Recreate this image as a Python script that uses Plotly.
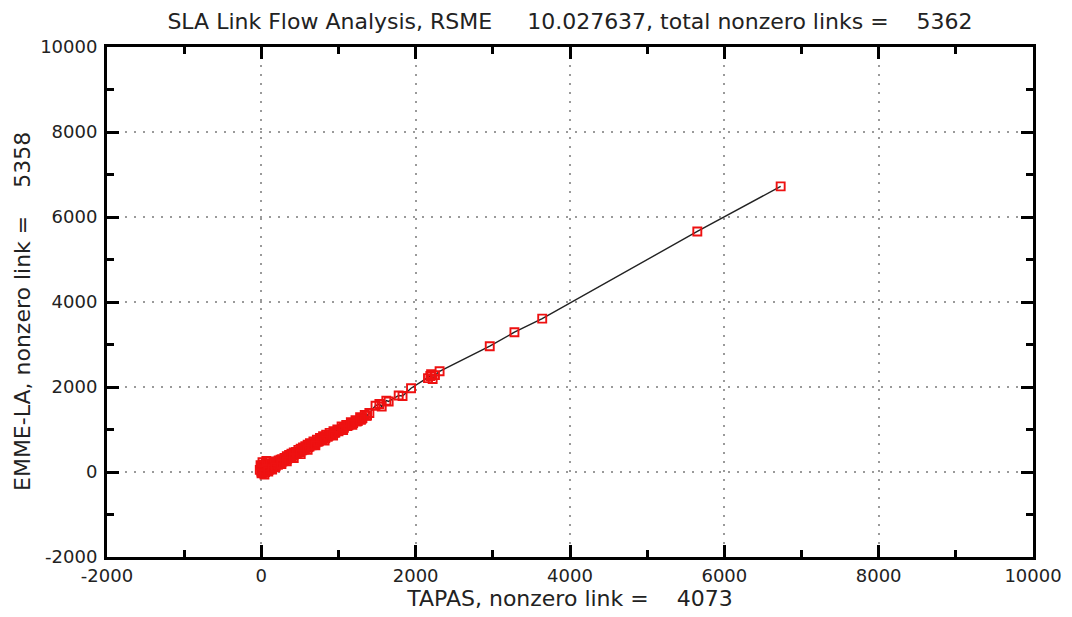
import plotly.graph_objects as go

# ---- data ----
tapas_flow = [
    0, 3, 6, 8, 10, 12, 15, 18, 20, 22, 25, 28, 30, 33, 35, 38, 40, 45, 48, 50,
    55, 58, 60, 65, 70, 72, 75, 80, 85, 90, 95, 100, 105, 110, 115, 120, 130, 135,
    140, 150, 155, 160, 170, 175, 185, 190, 200, 210, 215, 225, 230, 245, 250, 260,
    270, 275, 290, 300, 305, 320, 330, 335, 350, 360, 370, 385, 390, 400, 415, 420,
    440, 450, 455, 470, 480, 490, 505, 510, 530, 540, 550, 565, 570, 590, 600, 610,
    625, 630, 650, 665, 675, 690, 700, 720, 730, 745, 760, 770, 790, 800, 815, 830,
    840, 860, 870, 885, 900, 910, 935, 950, 960, 985, 1000, 1010, 1040, 1055, 1070,
    1100, 1115, 1130, 1160, 1175, 1190, 1220, 1235, 1250, 1280, 1300, 1310, 1340,
    1360, 1370, 1400,
    -20, -10, 15, 40, 65, 90, 140, 180, 260, 330, 420, 510, 600, 700, 820, 930,
    1060, 1180, 1290,
    1480, 1530, 1560, 1620, 1650, 1780, 1830, 1940, 2160, 2190, 2200, 2220, 2250,
    2310, 2960, 3280, 3640, 5650, 6730,
]
emme_flow = [
    10, -30, 60, 120, 20, -20, 90, 150, 40, 0, 110, 60, -10, 170, 70, 20, 130, 80,
    0, 160, 40, 110, 190, 60, 130, 20, 180, 90, 40, 150, 120, 60, 170, 110, 200,
    70, 160, 100, 200, 130, 210, 120, 180, 230, 140, 250, 190, 240, 170, 270, 210,
    220, 290, 230, 300, 250, 260, 330, 280, 300, 370, 310, 340, 400, 350, 360, 430,
    380, 400, 460, 420, 470, 430, 450, 520, 470, 480, 550, 510, 580, 530, 540, 610,
    570, 640, 590, 600, 680, 630, 660, 720, 660, 690, 760, 710, 720, 800, 750, 770,
    840, 790, 800, 880, 830, 850, 920, 870, 880, 960, 920, 930, 1000, 960, 990,
    1070, 1020, 1040, 1110, 1080, 1100, 1170, 1130, 1150, 1220, 1190, 1200, 1290,
    1250, 1270, 1340, 1320, 1330, 1390,
    50, 160, 230, -60, 260, 10, 60, 110, 190, 250, 330, 420, 520, 630, 740, 860,
    990, 1110, 1230,
    1560, 1600, 1540, 1680, 1660, 1800, 1790, 1970, 2210, 2260, 2300, 2190, 2280,
    2370, 2960, 3290, 3610, 5660, 6720,
]

x_ticks = [-2000, 0, 2000, 4000, 6000, 8000, 10000]
y_ticks = [-2000, 0, 2000, 4000, 6000, 8000, 10000]

NB = "\u00a0"
title_text = ("SLA Link Flow Analysis, RSME" + NB * 5 + "10.027637, "
              "total nonzero links =" + NB * 4 + "5362")
x_title = "TAPAS, nonzero link =" + NB * 4 + "4073"
y_title = "EMME-LA, nonzero link =" + NB * 4 + "5358"

# line through points sorted by TAPAS value
pairs = sorted(zip(tapas_flow, emme_flow))
line_x = [p[0] for p in pairs]
line_y = [p[1] for p in pairs]

fig = go.Figure()
fig.add_trace(go.Scatter(
    x=line_x, y=line_y, mode="lines",
    line=dict(color="#222222", width=1.4), hoverinfo="skip", showlegend=False,
))
fig.add_trace(go.Scatter(
    x=tapas_flow, y=emme_flow, mode="markers",
    marker=dict(symbol="square-open", size=8, color="#ee1111",
                line=dict(width=1.9, color="#ee1111")),
    showlegend=False,
))

font_family = "DejaVu Sans, Verdana, sans-serif"
axis_common = dict(
    showline=True, linecolor="black", linewidth=3, mirror="allticks",
    ticks="inside", ticklen=12, tickwidth=3, tickcolor="black",
    showgrid=True, gridcolor="#9a9a9a", griddash="2px,7px", gridwidth=2,
    zeroline=False, automargin=False,
    tickfont=dict(family=font_family, size=18, color="#222222"),
    minor=dict(ticks="inside", ticklen=7, tickwidth=3, tickcolor="black",
               dtick=1000, tick0=0, showgrid=False),
)

# page body has an 8px default margin, so the figure is sized to fit the window
W, H = 1064, 609
fig.update_layout(
    width=W, height=H,
    paper_bgcolor="white", plot_bgcolor="white",
    margin=dict(l=99, r=39, t=39, b=60, autoexpand=False),
    title=dict(text=title_text, x=0.5, xref="paper", xanchor="center",
               y=1 - 13 / H, yref="container", yanchor="middle",
               font=dict(family=font_family, size=22, color="#222222")),
    font=dict(family=font_family, color="#222222"),
    annotations=[dict(
        text=y_title, textangle=-90, showarrow=False,
        xref="paper", yref="paper", x=0, y=0.5,
        xanchor="center", yanchor="middle", xshift=-85, yshift=-10,
        font=dict(family=font_family, size=22, color="#222222"),
    )],
)
fig.update_xaxes(range=[-2000, 10000], tickvals=x_ticks,
                 ticktext=[str(v) for v in x_ticks],
                 title=dict(text=x_title, standoff=0,
                            font=dict(family=font_family, size=22, color="#222222")),
                 **axis_common)
fig.update_yaxes(range=[-2000, 10000], tickvals=y_ticks,
                 ticktext=[str(v) for v in y_ticks], ticklabelstandoff=3,
                 **axis_common)

fig.write_html("out.html")
